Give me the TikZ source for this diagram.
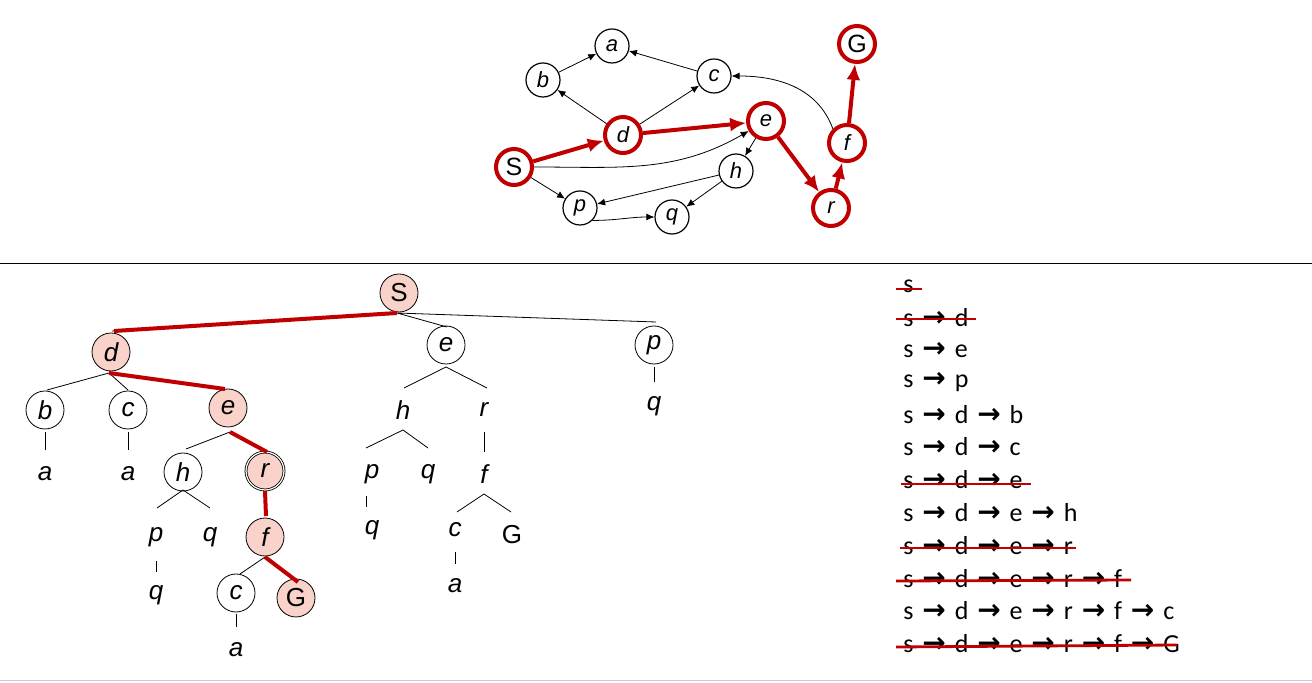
\documentclass[tikz,border=0pt]{standalone}
\usepackage{fontspec}
\setmainfont{Liberation Sans}
\newfontfamily\listfont{Carlito}
\newfontfamily\arfont{DejaVu Sans}
\usetikzlibrary{arrows.meta}
\definecolor{rd}{HTML}{C00000}
\definecolor{pk}{HTML}{F9D3CA}
\tikzset{
 gn/.style={circle,draw,line width=0.6pt,minimum size=17pt,inner sep=0pt,font=\fontsize{11}{11}\selectfont\itshape},
 gr/.style={gn,draw=rd,line width=2pt,minimum size=18pt},
 ge/.style={-{Latex[length=4pt,width=3.5pt]},line width=0.4pt},
 gre/.style={-{Latex[length=8pt,width=7pt]},draw=rd,fill=rd,line width=2pt},
 tn/.style={circle,draw,line width=0.4pt,minimum size=19pt,inner sep=0pt,font=\fontsize{13}{13}\selectfont\itshape},
 tf/.style={tn,fill=pk},
 tt/.style={inner sep=0pt,font=\fontsize{13}{13}\selectfont\itshape},
 tl/.style={line width=0.4pt},
 tr/.style={draw=rd,line width=2pt},
 li/.style={anchor=west,inner sep=0pt,font=\listfont\fontsize{13}{13}\selectfont},
 st/.style={draw=rd,line width=1.4pt}
}
\newcommand{\ar}{\hspace{1.5pt}{\arfont\bfseries\fontsize{14}{13}\selectfont →}\hspace{1.5pt}}
\begin{document}
\begin{tikzpicture}[x=0.5pt,y=-0.5pt]
\useasboundingbox (0,0) rectangle (1312,683);
\draw[line width=0.5pt] (0,264) -- (1312,264);
\draw[gray!40,line width=0.5pt] (0,681) -- (1312,681);
% graph
\node[gn] (a) at (612,46) {a};
\node[gn] (b) at (543,80) {b};
\node[gn] (c) at (714,76) {c};
\node[gr] (d) at (623,135) {d};
\node[gr] (e) at (766,121) {e};
\node[gr,font=\fontsize{12.5}{12}\selectfont] (S) at (514,167) {S};
\node[gn] (h) at (736,171) {h};
\node[gn] (p) at (580,208) {p};
\node[gn] (q) at (672,217) {q};
\node[gr] (r) at (831,208) {r};
\node[gr] (f) at (847,143) {f};
\node[gr,font=\fontsize{12.5}{12}\selectfont] (G) at (857,44) {G};
\draw[ge] (b) -- (a);
\draw[ge] (c) -- (a);
\draw[ge] (d) -- (b);
\draw[ge] (d) -- (c);
\draw[ge] (S.east) to[out=0,in=210] (e);
\draw[ge] (e) -- (h);
\draw[ge] (h) -- (p);
\draw[ge] (h) -- (q);
\draw[ge] (S) -- (p);
\draw[ge] (p.south east) to[out=0,in=180] (q.west);
\draw[ge] (f.north west) to[out=110,in=0] (c.east);
\draw[gre] (S) -- (d);
\draw[gre] (d) -- (e);
\draw[gre] (e) -- (r);
\draw[gre] (r) -- (f);
\draw[gre] (f) -- (G);
% tree
\node[tf,font=\fontsize{13}{13}\selectfont] (tS) at (399,293) {S};
\node[tf] (td) at (111,352) {d};
\node[tn] (te) at (446,345) {e};
\node[tn] (tp) at (654,345) {p};
\coordinate (sS) at (397,313);
\draw[tl] (sS) -- (112,331) (sS) -- (447,327) (sS) -- (656,322);
\draw[tr] (sS) -- (114,331);
\node[tn] (tb) at (45,410) {b};
\node[tn] (tc) at (128,410) {c};
\node[tf] (tdE) at (228,408) {e};
\coordinate (sd) at (109,373);
\draw[tl] (sd) -- (47,390) (sd) -- (128,390);
\draw[tr] (sd) -- (225,389);
\node[tt] (ba) at (45,474) {a};
\node[tt] (ca) at (128,474) {a};
\draw[tl] (45,432) -- (45,450) (128,432) -- (128,450);
\node[tn] (th) at (183,472) {h};
\node[tf,double,double distance=0.6pt] (tr) at (265,471) {r};
\coordinate (se) at (230,432);
\draw[tl] (se) -- (186,449);
\draw[tr] (se) -- (267,452);
\node[tt] (hp) at (156,537) {p};
\node[tt] (hq) at (210,537) {q};
\draw[tl] (183,490) -- (157,508) (183,490) -- (210,508);
\draw[tl] (156,561) -- (156,572);
\node[tt] (hpq) at (156,595) {q};
\node[tf] (tf) at (265,537) {f};
\draw[tr] (265,491) -- (266,516);
\node[tn] (tfc) at (236,593) {c};
\node[tf,font=\fontsize{13}{13}\selectfont] (tG) at (296,598) {G};
\coordinate (sf) at (265,557);
\draw[tl] (sf) -- (240,574);
\draw[tr] (sf) -- (298,582);
\draw[tl] (236,614) -- (236,627);
\node[tt] (fca) at (236,650) {a};
% e subtree
\node[tt] (eh) at (403,410) {h};
\node[tt] (er) at (484,410) {r};
\draw[tl] (446,367) -- (404,388) (446,367) -- (487,388);
\node[tt] (ehp) at (372,474) {p};
\node[tt] (ehq) at (428,474) {q};
\draw[tl] (403,430) -- (366,448) (403,430) -- (428,448);
\draw[tl] (366,496) -- (366,507);
\node[tt] (ehpq) at (372,530) {q};
\draw[tl] (484,432) -- (484,452);
\node[tt] (erf) at (484,474) {f};
\draw[tl] (484,494) -- (457,512) (484,494) -- (511,512);
\node[tt] (erfc) at (455,530) {c};
\node[tt,font=\fontsize{13}{13}\selectfont] (erfG) at (512,535) {G};
\draw[tl] (455,552) -- (455,564);
\node[tt] (erfca) at (455,586) {a};
\draw[tl] (654,367) -- (654,382);
\node[tt] (tpq) at (654,406) {q};
% list
\node[li] (l1) at (903,286) {s};
\node[li] (l2) at (903,318) {s \ar{} d};
\node[li] (l3) at (903,350) {s \ar{} e};
\node[li] (l4) at (903,382) {s \ar{} p};
\node[li] (l5) at (903,415) {s \ar{} d \ar{} b};
\node[li] (l6) at (903,447) {s \ar{} d \ar{} c};
\node[li] (l7) at (903,480) {s \ar{} d \ar{} e};
\node[li] (l8) at (903,513) {s \ar{} d \ar{} e \ar{} h};
\node[li] (l9) at (903,546) {s \ar{} d \ar{} e \ar{} r};
\node[li] (l10) at (903,579) {s \ar{} d \ar{} e \ar{} r \ar{} f};
\node[li] (l11) at (903,611) {s \ar{} d \ar{} e \ar{} r \ar{} f \ar{} c};
\node[li] (l12) at (903,644) {s \ar{} d \ar{} e \ar{} r \ar{} f \ar{} G};
\draw[st] (896,289) -- (922,289);
\draw[st] (896,319) -- (976,319);
\draw[st] (901,484) -- (1031,484);
\draw[st] (900,548) -- (1076,548);
\draw[st] (896,581) -- (1131,580);
\draw[st] (896,647) -- (1177,645);
\end{tikzpicture}
\end{document}
